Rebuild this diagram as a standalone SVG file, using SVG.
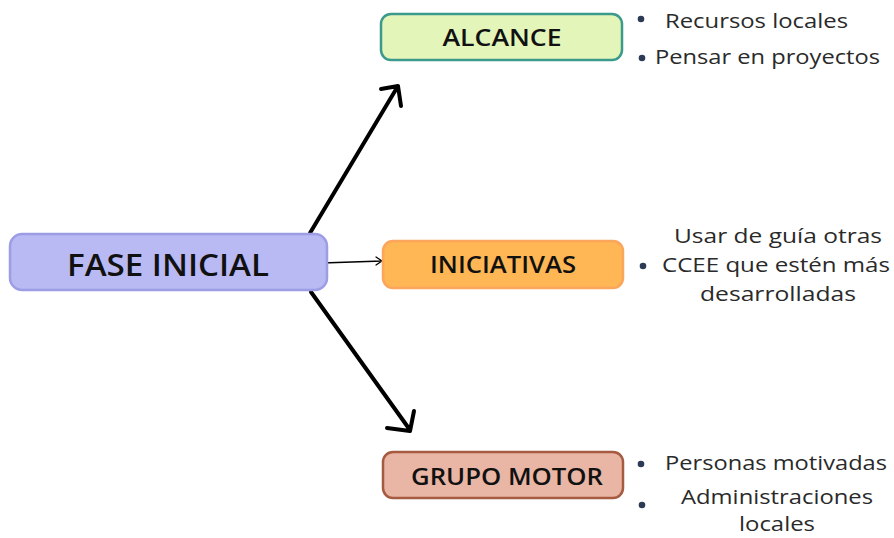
<svg xmlns="http://www.w3.org/2000/svg" width="894" height="538" viewBox="0 0 894 538">
<defs>
<style>
.box{stroke-width:2.5}
.t{font-family:"Open Sans","Liberation Sans",sans-serif;font-weight:600;fill:#111;text-anchor:middle;dominant-baseline:central}
.i{font-family:"Open Sans","Liberation Sans",sans-serif;fill:#2a2a2a;font-size:20px}
.dot{fill:#2d3a56}
.conn{stroke:#000;fill:none;stroke-linecap:round;stroke-linejoin:round}
</style>
</defs>
<rect width="894" height="538" fill="#fff"/>
<g id="connectors">
<path class="conn" stroke-width="4" d="M310 233 L398 86 M381 89 L398 86 L401 106"/>
<path class="conn" stroke-width="4" d="M311 292 L410 430 M387 428 L410 431 L414 411"/>
<path class="conn" stroke-width="1.3" d="M322 263 L382 261 M376 257 L382 261 L376 265"/>
</g>
<g id="fase-inicial">
<rect class="box" x="10" y="234" width="317" height="56" rx="12" fill="#b9b9f3" stroke="#9d9de6"/>
<text class="t" x="168" y="264" font-size="30" textLength="202" lengthAdjust="spacingAndGlyphs">FASE INICIAL</text>
</g>
<g id="alcance">
<rect class="box" x="381" y="14" width="241" height="46" rx="10" fill="#e4f5b9" stroke="#3c9a8c"/>
<text class="t" x="502" y="36" font-size="24" textLength="119" lengthAdjust="spacingAndGlyphs">ALCANCE</text>
</g>
<g id="iniciativas">
<rect class="box" x="383" y="241" width="240" height="47" rx="10" fill="#ffb654" stroke="#fba65c"/>
<text class="t" x="503" y="263" font-size="24" textLength="146" lengthAdjust="spacingAndGlyphs">INICIATIVAS</text>
</g>
<g id="grupo-motor">
<rect class="box" x="383" y="452" width="240" height="46" rx="10" fill="#e9b5a4" stroke="#a65a40"/>
<text class="t" x="507" y="475" font-size="24" textLength="192" lengthAdjust="spacingAndGlyphs">GRUPO MOTOR</text>
</g>
<g id="alcance-items">
<circle class="dot" cx="641" cy="19" r="3.3"/>
<text class="i" x="665" y="28" textLength="183" lengthAdjust="spacingAndGlyphs">Recursos locales</text>
<circle class="dot" cx="642" cy="58" r="3.3"/>
<text class="i" x="655" y="64" textLength="225" lengthAdjust="spacingAndGlyphs">Pensar en proyectos</text>
</g>
<g id="iniciativas-items">
<text class="i" x="778" y="243" text-anchor="middle" textLength="208" lengthAdjust="spacingAndGlyphs">Usar de guía otras</text>
<circle class="dot" cx="643" cy="266" r="3.3"/>
<text class="i" x="662" y="272" textLength="228" lengthAdjust="spacingAndGlyphs">CCEE que estén más</text>
<text class="i" x="778" y="301" text-anchor="middle" textLength="156" lengthAdjust="spacingAndGlyphs">desarrolladas</text>
</g>
<g id="grupo-motor-items">
<circle class="dot" cx="641" cy="464" r="3.3"/>
<text class="i" x="665" y="470" textLength="222" lengthAdjust="spacingAndGlyphs">Personas motivadas</text>
<circle class="dot" cx="642" cy="505" r="3.3"/>
<text class="i" x="777" y="504" text-anchor="middle" textLength="192" lengthAdjust="spacingAndGlyphs">Administraciones</text>
<text class="i" x="777" y="531" text-anchor="middle" textLength="76" lengthAdjust="spacingAndGlyphs">locales</text>
</g>
</svg>
